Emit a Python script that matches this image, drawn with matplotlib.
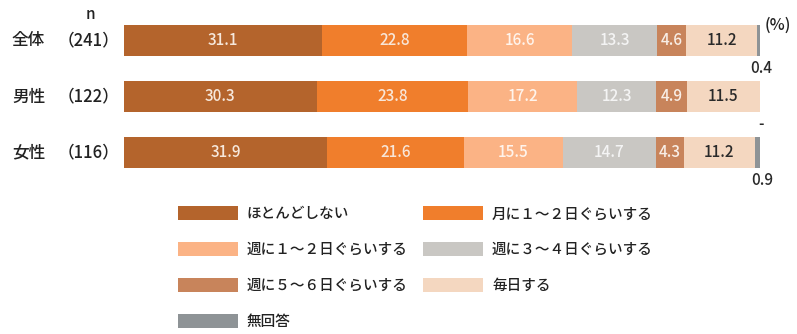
import matplotlib
matplotlib.use("Agg")
import matplotlib.pyplot as plt
from matplotlib.patches import Patch

plt.rcParams['font.family'] = ['Noto Sans CJK JP', 'DejaVu Sans']
plt.rcParams['font.weight'] = 'medium'

groups = ["全体", "男性", "女性"]
ns = ["（241）", "（122）", "（116）"]
categories = ["ほとんどしない", "月に１～２日ぐらいする", "週に１～２日ぐらいする",
              "週に３～４日ぐらいする", "週に５～６日ぐらいする", "毎日する", "無回答"]
values = {
    "ほとんどしない": [31.1, 30.3, 31.9],
    "月に１～２日ぐらいする": [22.8, 23.8, 21.6],
    "週に１～２日ぐらいする": [16.6, 17.2, 15.5],
    "週に３～４日ぐらいする": [13.3, 12.3, 14.7],
    "週に５～６日ぐらいする": [4.6, 4.9, 4.3],
    "毎日する": [11.2, 11.5, 11.2],
    "無回答": [0.4, 0.0, 0.9],
}
colors = ["#B4642C", "#F07E2C", "#FBB385", "#C9C7C3", "#C8845B", "#F4D7C0", "#8E9396"]
text_colors = ["#F6E8DC", "#F8E6D8", "#FFF4EC", "#F4F4F4", "#F8EEE6", "#2A2A2A", "#2A2A2A"]

W, H = 797, 334
fig = plt.figure(figsize=(W / 100, H / 100), dpi=100)
ax = fig.add_axes([124 / W, 1 - 168 / H, 636 / W, 143 / H])

ypos = list(range(len(groups)))
left = [0.0] * len(groups)
for ci, cat in enumerate(categories):
    vals = values[cat]
    ax.barh(ypos, vals, left=left, height=0.55, color=colors[ci], edgecolor="none")
    for gi, v in enumerate(vals):
        cx = left[gi] + v / 2
        if cat == "無回答":
            lab = f"{v:.1f}" if v > 0 else "-"
            ax.annotate(lab, (left[gi] + v, gi + 0.275), xytext=(1, -3),
                        textcoords="offset points", ha="center", va="top",
                        fontsize=11, color=text_colors[ci], annotation_clip=False)
        else:
            ax.text(cx, gi, f"{v:.1f}", ha="center", va="center",
                    fontsize=11, color=text_colors[ci])
        left[gi] += v

ax.set_xlim(0, 100)
ax.set_ylim(len(groups) - 1 + 0.275, -0.275)
ax.axis("off")

for gi, (g, n) in enumerate(zip(groups, ns)):
    ax.annotate(g, (0, gi), xycoords="data", xytext=(-112, 0), textcoords="offset pixels",
                ha="left", va="center", fontsize=12, color="#222222", annotation_clip=False)
    ax.annotate(n, (0, gi), xycoords="data", xytext=(-66, 0), textcoords="offset pixels",
                ha="left", va="center", fontsize=12, color="#222222", annotation_clip=False)
ax.annotate("n", (0, -0.275), xytext=(-34, 2), textcoords="offset pixels",
            ha="center", va="bottom", fontsize=11, color="#222222", annotation_clip=False)
ax.annotate("(%)", (100, -0.275), xytext=(18, 8), textcoords="offset pixels",
            ha="center", va="top", fontsize=11.5, color="#222222", annotation_clip=False)

handles = [Patch(facecolor=c, edgecolor="none") for c in colors]
order = [0, 2, 4, 6, 1, 3, 5]
leg = fig.legend([handles[i] for i in order], [categories[i] for i in order],
                 ncol=2, loc="upper left", bbox_to_anchor=(178 / W, 1 - 206 / H),
                 frameon=False, fontsize=10.5, handlelength=4.1, handleheight=1.15,
                 handletextpad=0.6, columnspacing=1.1, labelspacing=1.42,
                 borderaxespad=0, borderpad=0)
for t in leg.get_texts():
    t.set_color("#222222")

fig.savefig("out.png", dpi=100)
